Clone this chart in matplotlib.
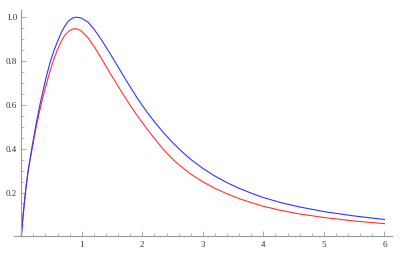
import matplotlib
matplotlib.use("Agg")
import matplotlib.pyplot as plt
from matplotlib.ticker import MultipleLocator

# valores
x_blue = [0, 0.04, 0.08, 0.12, 0.18, 0.24, 0.30, 0.36, 0.42, 0.48, 0.54, 0.60, 0.66,
          0.72, 0.78, 0.84, 0.90, 0.96, 1.0, 1.1, 1.2, 1.3, 1.4, 1.5, 1.6, 1.7, 1.8,
          1.9, 2.0, 2.1, 2.2, 2.35, 2.5, 2.65, 2.8, 3.0, 3.2, 3.4, 3.6, 3.8, 4.0,
          4.3, 4.6, 5.0, 5.5, 6.0]
y_blue = [0, 0.12, 0.225, 0.31, 0.41, 0.505, 0.59, 0.665, 0.735, 0.797, 0.848, 0.890, 0.929,
          0.960, 0.982, 0.995, 1.0, 0.998, 0.995, 0.978, 0.946, 0.907, 0.864, 0.819, 0.773, 0.727, 0.682,
          0.638, 0.597, 0.559, 0.523, 0.473, 0.428, 0.388, 0.351, 0.310, 0.275, 0.245, 0.219, 0.197, 0.177,
          0.153, 0.134, 0.113, 0.093, 0.077]

x_red = [0, 0.04, 0.08, 0.12, 0.18, 0.24, 0.30, 0.36, 0.42, 0.48, 0.54, 0.60, 0.66,
         0.72, 0.78, 0.84, 0.88, 0.94, 1.0, 1.1, 1.2, 1.3, 1.4, 1.5, 1.6, 1.7, 1.8,
         1.9, 2.0, 2.1, 2.2, 2.35, 2.5, 2.65, 2.8, 3.0, 3.2, 3.4, 3.6, 3.8, 4.0,
         4.3, 4.6, 5.0, 5.5, 6.0]
y_red = [0, 0.125, 0.232, 0.31, 0.40, 0.49, 0.568, 0.637, 0.70, 0.758, 0.81, 0.853, 0.89,
         0.917, 0.935, 0.945, 0.948, 0.945, 0.935, 0.907, 0.868, 0.823, 0.776, 0.730, 0.685, 0.641, 0.598,
         0.557, 0.519, 0.482, 0.447, 0.396, 0.352, 0.317, 0.284, 0.249, 0.219, 0.194, 0.172, 0.154, 0.137,
         0.118, 0.102, 0.086, 0.070, 0.058]

fig = plt.figure(figsize=(4.09, 2.58), dpi=100)
ax = fig.add_axes([0.0342, 0.0814, 0.9235, 0.88])

ax.plot(x_red, y_red, color="#ff3333", lw=0.8)
ax.plot(x_blue, y_blue, color="#3333ff", lw=0.8)

ax.set_xlim(-0.12, 6.12)
ax.set_ylim(-0.003, 1.033)

for s in ["top", "right"]:
    ax.spines[s].set_visible(False)
ax.spines["left"].set_position(("data", 0))
ax.spines["bottom"].set_position(("data", 0))
ax.spines["left"].set_bounds(0, 1.033)
for s in ["left", "bottom"]:
    ax.spines[s].set_color("#999999")
    ax.spines[s].set_linewidth(0.8)

ax.xaxis.set_major_locator(MultipleLocator(1))
ax.xaxis.set_minor_locator(MultipleLocator(0.2))
ax.yaxis.set_major_locator(MultipleLocator(0.2))
ax.yaxis.set_minor_locator(MultipleLocator(0.05))
ax.set_xticks([1, 2, 3, 4, 5, 6])
ax.set_xticklabels(["1", "2", "3", "4", "5", "6"])
ax.set_yticks([0.2, 0.4, 0.6, 0.8, 1.0])
ax.set_yticklabels(["0.2", "0.4", "0.6", "0.8", "1.0"])

ax.tick_params(which="major", direction="in", length=3.5, width=0.6, color="#999999",
               labelsize=6.5, labelcolor="#333333", pad=3)
ax.tick_params(which="minor", direction="in", length=2, width=0.5, color="#999999")
for lab in ax.get_xticklabels() + ax.get_yticklabels():
    lab.set_family("Liberation Serif")

fig.savefig("out.png", dpi=100)
